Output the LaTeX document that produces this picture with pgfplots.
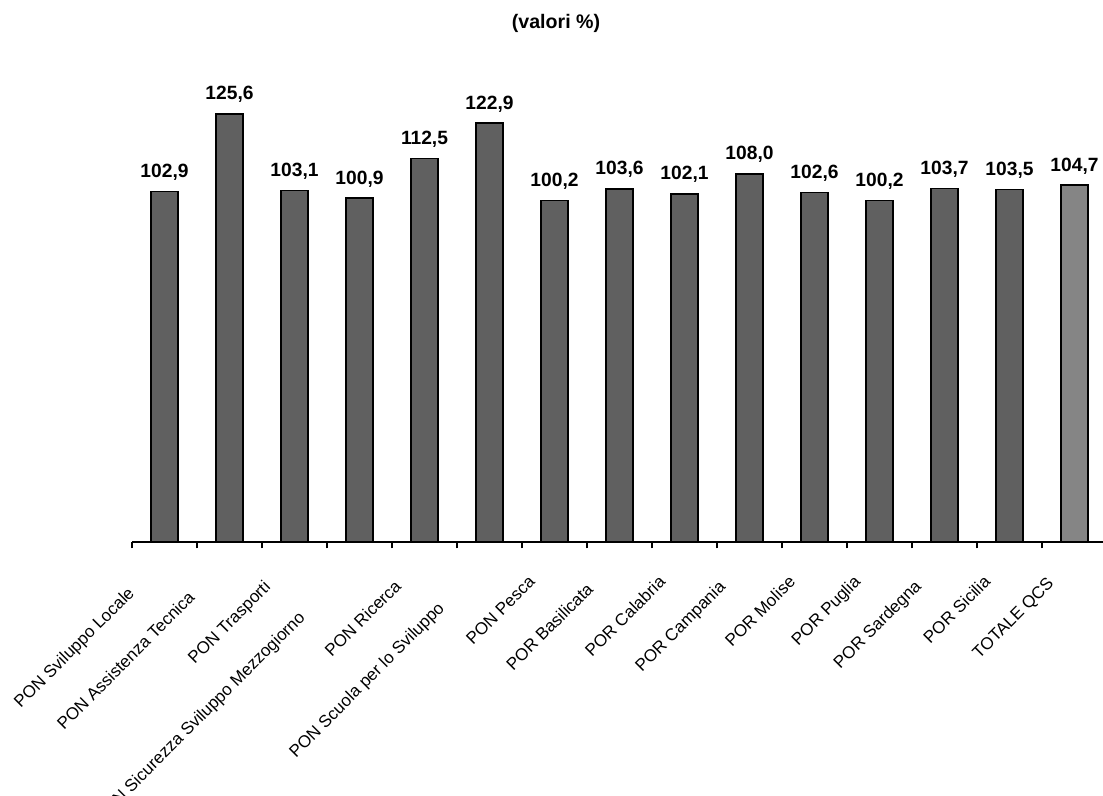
\documentclass[border=0pt]{standalone}
\usepackage{fontspec}
\setmainfont{Liberation Sans}
\usepackage{pgfplots}
\pgfplotsset{compat=1.18}
\definecolor{bardark}{HTML}{606060}
\definecolor{barlight}{HTML}{858585}
\begin{document}
\begin{tikzpicture}
\path[use as bounding box] (0,0) rectangle (551.5pt,398pt);
\begin{axis}[
  at={(66pt,127pt)}, anchor=south west,
  scale only axis, width=487.5pt, height=238.6pt,
  xmin=-0.5, xmax=14.5, ymin=0, ymax=140,
  axis y line=none, axis x line*=bottom, axis line style={-, black, line width=0.7pt},
  ybar, bar width=13.5pt,
  xtick={0,...,14}, major tick length=0pt,
  minor xtick={-0.5,0.5,...,14.5}, minor tick length=3.2pt,
  tick align=outside, tick style={black, line width=0.7pt},
  xticklabels={PON Sviluppo Locale\kern7.8pt, PON Assistenza Tecnica\kern11pt, PON Trasporti\kern3.5pt, PON Sicurezza Sviluppo Mezzogiorno\kern25pt, PON Ricerca\kern3pt, PON Scuola per lo Sviluppo\kern18.5pt, PON Pesca, POR Basilicata\kern5pt, POR Calabria, POR Campania\kern3.5pt, POR Molise, POR Puglia, POR Sardegna\kern3pt, POR Sicilia, TOTALE QCS\kern1pt},
  xticklabel style={xshift=-13.5pt, yshift=-16pt, rotate=45, anchor=north east, inner sep=0pt, font=\fontsize{8.5}{10}\selectfont},
  point meta=y,
  nodes near coords={\pgfmathprintnumber[fixed,fixed zerofill,precision=1,use comma,assume math mode=true]{\pgfplotspointmeta}},
  every node near coord/.append style={font=\bfseries\fontsize{9.6}{11}\selectfont, anchor=base, yshift=7pt, black},
]
\addplot[fill=bardark, draw=black, line width=0.7pt, bar shift=0pt] coordinates {
(0,102.9) (1,125.6) (2,103.1) (3,100.9) (4,112.5) (5,122.9) (6,100.2) (7,103.6) (8,102.1) (9,108.0) (10,102.6) (11,100.2) (12,103.7) (13,103.5)};
\addplot[fill=barlight, draw=black, line width=0.7pt, bar shift=0pt] coordinates {(14,104.7)};
\end{axis}
\node[font=\bfseries\fontsize{9.8}{12}\selectfont] at (278pt,386.5pt) {(valori \%)};
\end{tikzpicture}
\end{document}
